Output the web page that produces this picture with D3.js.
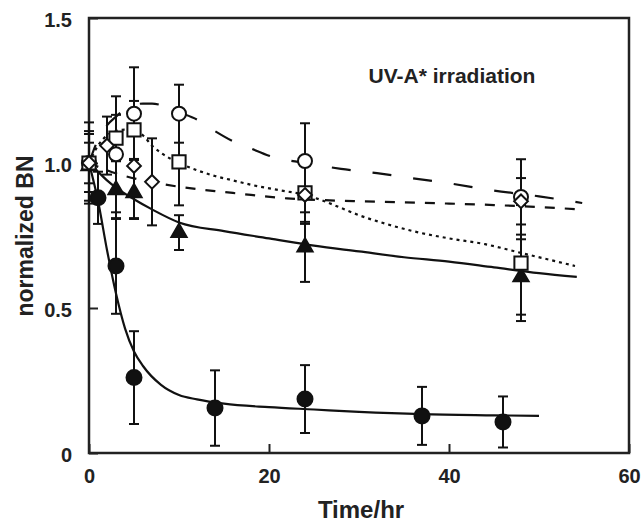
<!DOCTYPE html>
<html>
<head>
<meta charset="utf-8">
<script src="https://cdn.jsdelivr.net/npm/d3@7"></script>
<style>
  body { margin: 0; background: #fff; }
  text { font-family: "Liberation Sans", Arial, sans-serif; font-weight: bold; fill: #222; }
</style>
</head>
<body>
<svg id="chart" width="642" height="522"></svg>
<script>
// ---- data ----
var xTicks = [0, 20, 40, 60];
var xTickLabels = ["0", "20", "40", "60"];
var yTicks = [0, 0.5, 1.0, 1.5];
var yTickLabels = ["0", "0.5", "1.0", "1.5"];

// filled circles
var timeFilled = [1, 3, 5, 14, 24, 37, 46];
var valFilled  = [0.88, 0.645, 0.26, 0.155, 0.186, 0.128, 0.107];
var errFilled  = [0.09, 0.165, 0.16, 0.13, 0.117, 0.1, 0.088];
// filled triangles
var timeTri = [0, 3, 5, 10, 24, 48];
var valTri  = [0.99, 0.907, 0.897, 0.76, 0.71, 0.607];
var errTri  = [0.12, 0.1, 0.09, 0.06, 0.12, 0.13];
// open circles
var timeCirc = [0, 3, 5, 10, 24, 48];
var valCirc  = [1.0, 1.03, 1.17, 1.17, 1.007, 0.883];
var errCirc  = [0.14, 0.2, 0.16, 0.1, 0.13, 0.13];
// open squares
var timeSq = [0, 3, 5, 10, 24, 48];
var valSq  = [1.0, 1.086, 1.114, 1.004, 0.897, 0.655];
var errSq  = [0.07, 0.08, 0.1, 0.15, 0.1, 0.2];
// open diamonds
var timeDia = [0, 2, 5, 7, 24, 48];
var valDia  = [1.0, 1.06, 0.99, 0.935, 0.89, 0.868];
var errDia  = [0.1, 0.1, 0.18, 0.15, 0.1, 0.08];

// fitted curves
var fitTimeFilled = [0, 1, 2, 3, 4, 5, 6, 8, 10, 12, 15, 20, 25, 30, 37, 45, 50];
var fitFilled     = [1.0, 0.87, 0.7, 0.55, 0.43, 0.35, 0.3, 0.235, 0.2, 0.185, 0.17, 0.158, 0.15, 0.142, 0.134, 0.13, 0.128];
var fitTimeTri = [0, 1, 2, 3, 5, 7, 10, 15, 20, 25, 30, 35, 40, 45, 50, 54.2];
var fitTri     = [1.0, 0.97, 0.94, 0.915, 0.875, 0.84, 0.795, 0.765, 0.74, 0.715, 0.695, 0.675, 0.66, 0.64, 0.62, 0.607];
var fitTimeCirc = [0, 1, 2, 3, 4, 5, 6, 7, 8, 10, 12, 14, 16, 18, 20, 24, 28, 32, 36, 40, 45, 50, 54.8];
var fitCirc     = [1.0, 1.08, 1.13, 1.16, 1.185, 1.2, 1.205, 1.205, 1.2, 1.175, 1.15, 1.11, 1.075, 1.05, 1.025, 1.0, 0.98, 0.965, 0.947, 0.93, 0.905, 0.885, 0.862];
var fitTimeSq = [0, 1, 2, 3, 4, 5, 6, 7, 8, 10, 12, 14, 16, 18, 21, 24, 26, 28, 30, 33, 36, 40, 44, 48, 52, 54];
var fitSq     = [1.0, 1.06, 1.095, 1.11, 1.115, 1.11, 1.095, 1.06, 1.035, 1.0, 0.975, 0.955, 0.94, 0.925, 0.907, 0.89, 0.87, 0.845, 0.82, 0.79, 0.765, 0.74, 0.72, 0.69, 0.66, 0.645];
var fitTimeDia = [0, 2, 4, 6, 8, 10, 12, 15, 18, 22, 26, 30, 35, 40, 45, 50, 54];
var fitDia     = [1.0, 0.975, 0.955, 0.94, 0.928, 0.918, 0.91, 0.9, 0.89, 0.878, 0.872, 0.868, 0.864, 0.86, 0.855, 0.848, 0.841];

// ---- layout ----
var svg = d3.select("#chart");
var plotLeft = 89, plotRight = 629, plotTop = 18, plotBottom = 453;

var x = d3.scaleLinear().domain([0, 60]).range([plotLeft, plotRight]);
var y = d3.scaleLinear().domain([0, 1.5]).range([plotBottom, plotTop]);

function zip(xs, ys, es) {
  return xs.map((t, i) => ({t: t, v: ys[i], e: es ? es[i] : 0}));
}

// axes (ticks point inward)
svg.append("g")
    .attr("transform", `translate(0,${plotBottom})`)
    .call(d3.axisBottom(x).tickValues(xTicks).tickSize(-9).tickPadding(16)
      .tickFormat((d, i) => xTickLabels[i]))
    .call(g => g.select(".domain").remove())
    .call(g => g.selectAll("line").attr("stroke", "#222").attr("stroke-width", 2))
    .call(g => g.selectAll("text").attr("font-size", 20).attr("fill", "#222")
      .style("font-family", "Liberation Sans, Arial, sans-serif").style("font-weight", "bold"));

svg.append("g")
    .attr("transform", `translate(${plotLeft},0)`)
    .call(d3.axisLeft(y).tickValues(yTicks).tickSize(-9).tickPadding(17)
      .tickFormat((d, i) => yTickLabels[i]))
    .call(g => g.select(".domain").remove())
    .call(g => g.selectAll("line").attr("stroke", "#222").attr("stroke-width", 2))
    .call(g => g.selectAll("text").attr("font-size", 20).attr("fill", "#222").attr("dy", "0.4em")
      .style("font-family", "Liberation Sans, Arial, sans-serif").style("font-weight", "bold"));

// frame
svg.append("rect")
    .attr("x", plotLeft).attr("y", plotTop)
    .attr("width", plotRight - plotLeft).attr("height", plotBottom - plotTop)
    .attr("fill", "none").attr("stroke", "#222").attr("stroke-width", 2.5);

// fitted lines
var line = d3.line().x(d => x(d.t)).y(d => y(d.v)).curve(d3.curveMonotoneX);
var fits = [
  {d: zip(fitTimeFilled, fitFilled), dash: null},
  {d: zip(fitTimeTri, fitTri), dash: null},
  {d: zip(fitTimeCirc, fitCirc), dash: "19,22"},
  {d: zip(fitTimeSq, fitSq), dash: "3,4"},
  {d: zip(fitTimeDia, fitDia), dash: "10,10"}
];
svg.append("g").selectAll("path")
  .data(fits)
  .join("path")
    .attr("d", f => line(f.d))
    .attr("fill", "none")
    .attr("stroke", "#111")
    .attr("stroke-width", 2.2)
    .attr("stroke-dasharray", f => f.dash);

// series with error bars
var series = [
  {pts: zip(timeFilled, valFilled, errFilled), sym: d3.symbolCircle, size: Math.PI * 7.5 * 7.5, fill: "#111"},
  {pts: zip(timeTri, valTri, errTri), sym: d3.symbolTriangle, size: 100, fill: "#111"},
  {pts: zip(timeCirc, valCirc, errCirc), sym: d3.symbolCircle, size: Math.PI * 7 * 7, fill: "#fff"},
  {pts: zip(timeSq, valSq, errSq), sym: d3.symbolSquare, size: 175, fill: "#fff"},
  {pts: zip(timeDia, valDia, errDia), sym: d3.symbolDiamond2, size: 120, fill: "#fff"}
];

var allPts = series.flatMap(s => s.pts);
var eb = svg.append("g").attr("stroke", "#111").attr("stroke-width", 2);
eb.selectAll(".v").data(allPts).join("line").attr("class", "v")
    .attr("x1", d => x(d.t)).attr("x2", d => x(d.t))
    .attr("y1", d => y(d.v + d.e)).attr("y2", d => y(d.v - d.e));
eb.selectAll(".top").data(allPts).join("line").attr("class", "top")
    .attr("x1", d => x(d.t) - 5).attr("x2", d => x(d.t) + 5)
    .attr("y1", d => y(d.v + d.e)).attr("y2", d => y(d.v + d.e));
eb.selectAll(".bot").data(allPts).join("line").attr("class", "bot")
    .attr("x1", d => x(d.t) - 5).attr("x2", d => x(d.t) + 5)
    .attr("y1", d => y(d.v - d.e)).attr("y2", d => y(d.v - d.e));

series.forEach(s => {
  svg.append("g").selectAll("path")
    .data(s.pts)
    .join("path")
      .attr("transform", d => `translate(${x(d.t)},${y(d.v)})`)
      .attr("d", d3.symbol().type(s.sym).size(s.size))
      .attr("fill", s.fill)
      .attr("stroke", "#111")
      .attr("stroke-width", 2);
});

// labels
svg.append("text")
    .attr("x", 452).attr("y", 83)
    .attr("text-anchor", "middle")
    .attr("font-size", 21)
    .text("UV-A* irradiation");

svg.append("text")
    .attr("x", 361).attr("y", 518)
    .attr("text-anchor", "middle")
    .attr("font-size", 24)
    .text("Time/hr");

svg.append("text")
    .attr("transform", `translate(33,236) rotate(-90)`)
    .attr("text-anchor", "middle")
    .attr("font-size", 23)
    .text("normalized BN");
</script>
</body>
</html>
